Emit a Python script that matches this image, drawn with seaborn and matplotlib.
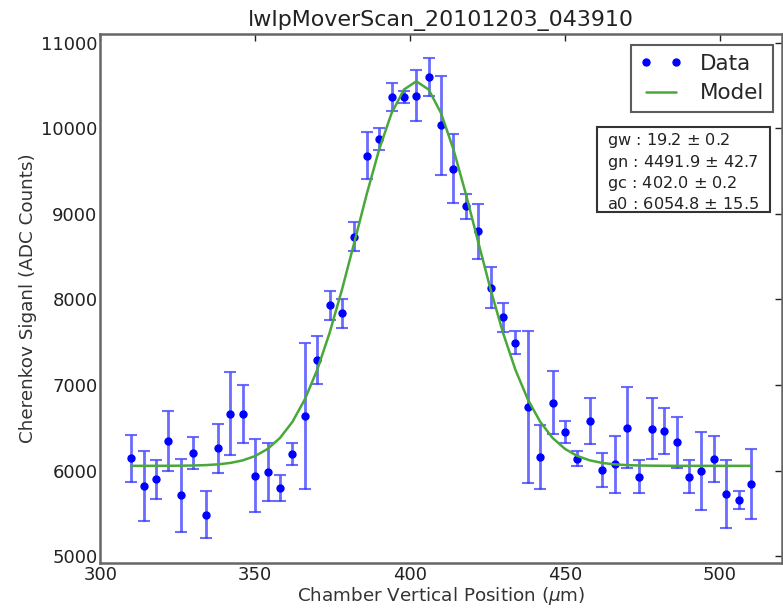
import numpy as np
import pandas as pd
import matplotlib
matplotlib.use("Agg")
import matplotlib.pyplot as plt
from matplotlib.patches import Rectangle
import seaborn as sns

# ---- data ----
x_pos = [310, 314, 318, 322, 326, 330, 334, 338, 342, 346,
         350, 354, 358, 362, 366, 370, 374, 378, 382, 386,
         390, 394, 398, 402, 406, 410, 414, 418, 422, 426,
         430, 434, 438, 442, 446, 450, 454, 458, 462, 466,
         470, 474, 478, 482, 486, 490, 494, 498, 502, 506, 510]
signal = [6142, 5819, 5897, 6343, 5710, 6204, 5485, 6258, 6666, 6658,
          5940, 5978, 5800, 6192, 6638, 7292, 7932, 7839, 8732, 9675,
          9878, 10363, 10363, 10379, 10596, 10033, 9528, 9089, 8794, 8137,
          7788, 7493, 6747, 6157, 6794, 6453, 6138, 6581, 6002, 6072,
          6499, 5928, 6487, 6460, 6331, 5928, 5994, 6138, 5726, 5652, 5839]
errors = [275, 410, 227, 350, 430, 190, 275, 283, 480, 336,
          428, 338, 152, 126, 857, 285, 170, 170, 170, 274,
          128, 167, 68, 300, 222, 580, 400, 147, 320, 240,
          172, 133, 887, 370, 370, 130, 88, 267, 200, 330,
          475, 195, 355, 267, 300, 190, 457, 267, 400, 105, 410]

# fit parameters shown in the chart (value, uncertainty)
param_names = ["gw", "gn", "gc", "a0"]
param_values = [19.2, 4491.9, 402.0, 6054.8]
param_errors = [0.2, 42.7, 0.2, 15.5]

title = "lwIpMoverScan_20101203_043910"
xlabel = "Chamber Vertical Position ($\\mu$m)"
ylabel = "Cherenkov Siganl (ADC Counts)"
xticks = [300, 350, 400, 450, 500]
yticks = [5000, 6000, 7000, 8000, 9000, 10000, 11000]

# ---- build frame ----
gw, gn, gc, a0 = param_values
df = pd.DataFrame({"x": x_pos, "y": signal, "err": errors})
df["model"] = a0 + gn * np.exp(-(df["x"] - gc) ** 2 / (2 * gw ** 2))

sns.set_style("white")
plt.rcParams["font.family"] = ["DejaVu Sans"]

fig = plt.figure(figsize=(7.83, 6.13), dpi=100)
ax = fig.add_axes([0.128, 0.0816, 0.8707, 0.863])

ax.errorbar(df["x"], df["y"], yerr=df["err"], fmt="none",
            ecolor=(0.2, 0.2, 1.0, 0.72), elinewidth=2.0,
            capsize=4, capthick=1.5, zorder=2)
ax.plot(df["x"], df["y"], "o", ls="none", color="blue", ms=5,
        label="Data", zorder=3)
sns.lineplot(data=df, x="x", y="model", ax=ax, color="#4aa83a",
             lw=1.8, label="Model", zorder=4)

ax.set_xlim(300, 520)
ax.set_ylim(4920, 11100)
ax.set_xticks(xticks)
ax.set_yticks(yticks)
ax.tick_params(direction="in", length=5, width=1, top=True, right=True,
               labelsize=13, colors="#222222", pad=2)
for s in ax.spines.values():
    s.set_color("#666666")
    s.set_linewidth(1.8)

ax.set_title(title, fontsize=15.9, color="#222222", pad=6)
ax.set_xlabel(xlabel, fontsize=13.2, color="#333333", labelpad=1)
ax.set_ylabel(ylabel, fontsize=13.2, color="#333333", labelpad=3)

leg = ax.legend(loc="upper right", numpoints=2, fontsize=15.5,
                frameon=True, fancybox=False, borderpad=0.4,
                borderaxespad=0, handlelength=2.0, labelspacing=0.45,
                bbox_to_anchor=(0.9868, 0.979))
leg.get_frame().set_edgecolor("#333333")
leg.get_frame().set_linewidth(1.5)

# parameter box
ax.add_patch(Rectangle((0.7287, 0.6635), 0.2537, 0.1607, transform=ax.transAxes,
                       fc="white", ec="#333333", lw=1.5, zorder=5))
ptext = "\n".join(f"{n} : {v:.1f} $\\pm$ {e:.1f}"
                  for n, v, e in zip(param_names, param_values, param_errors))
ax.text(0.7435, 0.8170, ptext, transform=ax.transAxes, fontsize=11.6,
        va="top", ha="left", color="#222222", linespacing=1.2, zorder=6)

fig.savefig("out.png", dpi=100)
